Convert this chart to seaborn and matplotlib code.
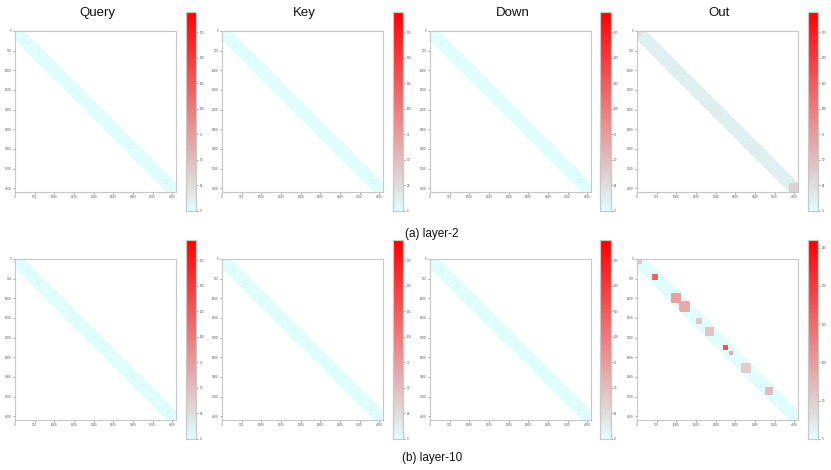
import numpy as np
import pandas as pd
import matplotlib
matplotlib.use("Agg")
import matplotlib.pyplot as plt
from matplotlib.colors import LinearSegmentedColormap
import seaborn as sns

sns.set_theme(style="white")
plt.rcParams['font.family'] = ['Liberation Sans', 'DejaVu Sans']

# ---------------- data ----------------
modules = ["Query", "Key", "Down", "Out"]
layers = ["(a) layer-2", "(b) layer-10"]
seq_len = 4096
cell = 32
band_half = 256
axis_ticks = [0, 500, 1000, 1500, 2000, 2500, 3000, 3500, 4000]

# colour-scale maxima per panel [layer][module]
vmax_vals = [[195, 195, 195, 195],
             [195, 195, 195, 260]]
cbar_steps = [[25, 25, 25, 25],
              [25, 25, 25, 50]]
# base level inside the diagonal band
band_levels = [[2, 2, 2, 11],
               [2, 2, 2, 4]]
# local brighter blocks on the diagonal: centre, half-size, value
hot_pos = [
    [[300, 620, 1650, 2950, 3850],
     [350, 650, 1700, 3000, 3850],
     [300, 700, 1900, 3800],
     [60, 1000, 2000, 3000, 3980]],
    [[300, 600, 1600, 3000, 3900],
     [300, 600, 1500, 3800],
     [300, 700, 3800],
     [60, 450, 1000, 1200, 1580, 1840, 2240, 2370, 2770, 3360]],
]
hot_size = [
    [[60, 60, 60, 60, 60],
     [60, 60, 60, 60, 60],
     [60, 60, 60, 60],
     [70, 130, 130, 130, 110]],
    [[60, 60, 60, 60, 60],
     [60, 60, 60, 60],
     [60, 60, 60],
     [70, 80, 130, 130, 80, 100, 80, 48, 130, 100]],
]
hot_val = [
    [[6, 6, 5, 6, 7],
     [6, 6, 5, 5, 7],
     [6, 6, 5, 7],
     [22, 14, 14, 14, 34]],
    [[6, 6, 5, 6, 7],
     [6, 6, 5, 6],
     [6, 6, 6],
     [55, 160, 95, 85, 55, 60, 170, 85, 50, 65]],
]

# ---------------- helpers ----------------
cmap = LinearSegmentedColormap.from_list(
    "cyan_gray_red",
    [(0.0, "#e0ffff"), (0.12, "#dedede"), (1.0, "#ff0000")], N=256)

n = seq_len // cell
centres = np.arange(n) * cell + cell / 2


def build_matrix(level, pos, size, val):
    I, J = np.meshgrid(centres, centres, indexing="ij")
    band = np.abs(I - J) < band_half
    M = np.where(band, float(level), np.nan)
    for p, s, v in zip(pos, size, val):
        sel = band & (np.abs(I - p) < s) & (np.abs(J - p) < s)
        M[sel] = np.maximum(M[sel], v)
    return pd.DataFrame(M)


W, H = 831, 470
fig = plt.figure(figsize=(W / 100, H / 100), dpi=100)

col_hm_left = [15, 222, 430, 637]
col_cb_left = [185.5, 392.5, 600, 807.5]
row_hm_top = [31, 259]
row_cb_top = [12, 240]
hm_size = 161
cb_w, cb_h = 10.5, 199


def fr(x, y, w, h):
    return [x / W, 1 - (y + h) / H, w / W, h / H]


spine_col = "#c8c8c8"
for r in range(2):
    for c in range(4):
        ax = fig.add_axes(fr(col_hm_left[c], row_hm_top[r], hm_size, hm_size))
        cax = fig.add_axes(fr(col_cb_left[c], row_cb_top[r], cb_w, cb_h))
        df = build_matrix(band_levels[r][c], hot_pos[r][c],
                          hot_size[r][c], hot_val[r][c])
        sns.heatmap(df, ax=ax, cbar_ax=cax, cmap=cmap, vmin=0,
                    vmax=vmax_vals[r][c], xticklabels=False,
                    yticklabels=False, rasterized=True)
        ax.set_xticks([t / cell for t in axis_ticks])
        ax.set_xticklabels([str(t) for t in axis_ticks])
        ax.set_yticks([t / cell for t in axis_ticks])
        ax.set_yticklabels([str(t) for t in axis_ticks], rotation=0)
        ax.tick_params(axis="both", which="both", length=1.5, width=0.4,
                       labelsize=2.2, colors="#555555", pad=1,
                       bottom=True, left=True)
        ax.set_xlim(0, n)
        ax.set_ylim(n, 0)
        for sp in ax.spines.values():
            sp.set_visible(True)
            sp.set_color(spine_col)
            sp.set_linewidth(0.8)
        step = cbar_steps[r][c]
        ticks = list(range(0, int(vmax_vals[r][c]) + 1, step))
        cax.set_yticks(ticks)
        cax.set_yticklabels([str(t) for t in ticks])
        cax.tick_params(length=1.5, width=0.4, labelsize=2.2,
                        colors="#555555", pad=1)
        for sp in cax.spines.values():
            sp.set_visible(True)
            sp.set_color(spine_col)
            sp.set_linewidth(0.8)
        if r == 0:
            fig.text((col_hm_left[c] + hm_size / 2 + 2) / W, 1 - 13 / H,
                     modules[c], ha="center", va="center", fontsize=9.5,
                     color="#111111")

fig.text(432 / W, 1 - 234 / H, layers[0], ha="center", va="center",
         fontsize=8.5, color="#111111")
fig.text(432 / W, 1 - 458 / H, layers[1], ha="center", va="center",
         fontsize=8.5, color="#111111")

fig.savefig("out.png", dpi=100, facecolor="white")
